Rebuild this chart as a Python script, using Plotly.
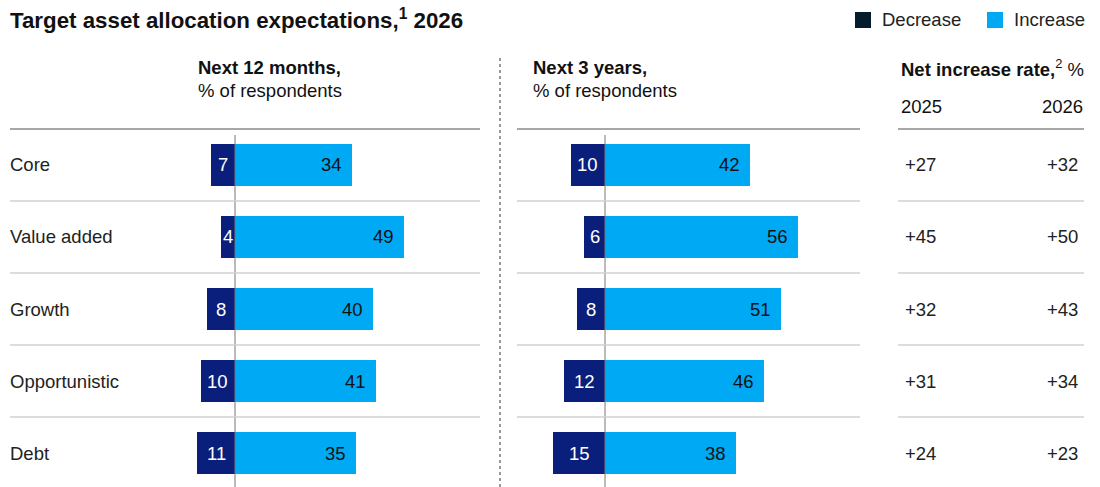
import plotly.graph_objects as go

# ---- data ----
categories = ["Core", "Value added", "Growth", "Opportunistic", "Debt"]
decrease_12m = [7, 4, 8, 10, 11]
increase_12m = [34, 49, 40, 41, 35]
decrease_3y = [10, 6, 8, 12, 15]
increase_3y = [42, 56, 51, 46, 38]
net_2025 = ["+27", "+45", "+32", "+31", "+24"]
net_2026 = ["+32", "+50", "+43", "+34", "+23"]

# ---- styling ----
W, H = 1100, 487
FONT = "Liberation Sans"
C_DEC = "#0a1f7b"
C_INC = "#00a9f4"
C_DEC_LEGEND = "#051c2c"
C_TEXT = "#222222"
FS = 18.5

def px(x):
    return x / W


def py(y):
    return 1 - y / H


rows = list(range(len(categories)))
y_top_px, row0_px, row_h = 135, 165, 72
y_range = [(H - row0_px) / row_h, (y_top_px - row0_px) / row_h]
scale = 3.45  # pixels per percentage point

fig = go.Figure()

panels = [
    ("x", decrease_12m, increase_12m),
    ("x2", decrease_3y, increase_3y),
]
for xa, dec, inc in panels:
    fig.add_trace(go.Bar(
        y=rows, x=[-v for v in dec], orientation="h", base=0,
        marker=dict(color=C_DEC, line=dict(width=0)), width=0.57,
        xaxis=xa, yaxis="y", showlegend=False, hoverinfo="skip",
    ))
    fig.add_trace(go.Bar(
        y=rows, x=inc, orientation="h", base=0,
        marker=dict(color=C_INC, line=dict(width=0)), width=0.57,
        xaxis=xa, yaxis="y", showlegend=False, hoverinfo="skip",
    ))

annotations = []
shapes = []

# bar value labels
for xa, dec, inc in panels:
    xref = xa
    for i in rows:
        annotations.append(dict(
            x=-dec[i] / 2, y=i, xref=xref, yref="y", text=str(dec[i]),
            showarrow=False, xanchor="center", yanchor="middle",
            font=dict(family=FONT, size=FS, color="white"),
        ))
        annotations.append(dict(
            x=inc[i], y=i, xref=xref, yref="y", text=str(inc[i]),
            showarrow=False, xanchor="right", yanchor="middle", xshift=-8,
            font=dict(family=FONT, size=FS, color="#111111"),
        ))
    # zero line drawn over the bars
    shapes.append(dict(
        type="line", xref=xref, yref="paper", x0=0, x1=0,
        y0=0, y1=py(y_top_px), line=dict(color="#777777", width=1),
        layer="above",
    ))

# category labels and net increase table
for i, cat in enumerate(categories):
    annotations.append(dict(
        x=px(8), y=i, xref="paper", yref="y", text=cat, showarrow=False,
        xanchor="left", yanchor="middle",
        font=dict(family=FONT, size=FS, color=C_TEXT),
    ))
    annotations.append(dict(
        x=px(903), y=i, xref="paper", yref="y", text=net_2025[i],
        showarrow=False, xanchor="left", yanchor="middle",
        font=dict(family=FONT, size=FS, color=C_TEXT),
    ))
    annotations.append(dict(
        x=px(1080), y=i, xref="paper", yref="y", text=net_2026[i],
        showarrow=False, xanchor="right", yanchor="middle",
        font=dict(family=FONT, size=FS, color=C_TEXT),
    ))

# row separators
segments = [(10, 480), (517, 860), (898, 1084)]
for i in rows[:-1]:
    for x0, x1 in segments:
        shapes.append(dict(
            type="line", xref="paper", yref="y", x0=px(x0), x1=px(x1),
            y0=i + 0.5, y1=i + 0.5, line=dict(color="#d0d0d0", width=1.5),
        ))
# header rules
for x0, x1 in segments:
    shapes.append(dict(
        type="line", xref="paper", yref="paper", x0=px(x0), x1=px(x1),
        y0=py(129), y1=py(129), line=dict(color="#8a8a8a", width=1.5),
    ))
# dashed divider between panels
shapes.append(dict(
    type="line", xref="paper", yref="paper", x0=px(500), x1=px(500),
    y0=py(58), y1=0, line=dict(color="#333333", width=1, dash="3px,3px"),
))

# legend
for x0, color, label in [(855, C_DEC_LEGEND, "Decrease"), (987, C_INC, "Increase")]:
    shapes.append(dict(
        type="rect", xref="paper", yref="paper", x0=px(x0), x1=px(x0 + 16),
        y0=py(28), y1=py(12), fillcolor=color, line=dict(width=0),
    ))
    annotations.append(dict(
        x=px(x0 + 25), y=py(20), xref="paper", yref="paper", text=label,
        showarrow=False, xanchor="left", yanchor="middle",
        font=dict(family=FONT, size=FS, color=C_TEXT),
    ))

# titles and headers
header_items = [
    (8, 19, "<b>Target asset allocation expectations,<sup>1</sup> 2026</b>", 22.3, "left"),
    (196, 68, "<b>Next 12 months,</b>", FS, "left"),
    (196, 91, "% of respondents", FS, "left"),
    (531, 68, "<b>Next 3 years,</b>", FS, "left"),
    (531, 91, "% of respondents", FS, "left"),
    (899, 68, "<b>Net increase rate,</b><sup>2</sup> %", FS, "left"),
    (899, 107, "2025", FS, "left"),
    (1085, 107, "2026", FS, "right"),
]
for x, y, text, size, anchor in header_items:
    annotations.append(dict(
        x=px(x), y=py(y), xref="paper", yref="paper", text=text,
        showarrow=False, xanchor=anchor, yanchor="middle",
        font=dict(family=FONT, size=size, color="#111111"),
    ))

fig.update_layout(
    width=W, height=H,
    margin=dict(l=0, r=0, t=0, b=0),
    paper_bgcolor="white", plot_bgcolor="white",
    barmode="relative", bargap=0,
    showlegend=False,
    xaxis=dict(domain=[px(10), px(480)], range=[(10 - 235) / scale, (480 - 235) / scale],
               visible=False, anchor="y", fixedrange=True),
    xaxis2=dict(domain=[px(517), px(860)], range=[(517 - 605) / scale, (860 - 605) / scale],
                visible=False, anchor="y", fixedrange=True),
    yaxis=dict(domain=[0, py(y_top_px)], range=y_range, visible=False,
               anchor="x", fixedrange=True),
    annotations=annotations,
    shapes=shapes,
    font=dict(family=FONT),
)

fig.write_html("out.html", config={"displayModeBar": False})
